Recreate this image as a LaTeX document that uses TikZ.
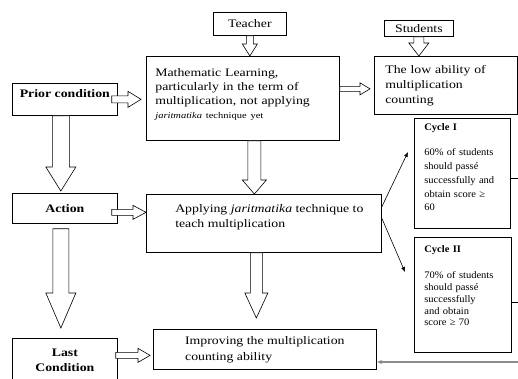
\documentclass[tikz,border=0pt]{standalone}
\usepackage{fontspec}
\setmainfont{Liberation Serif}[FakeStretch=1.2]
\newfontfamily\cyf{Liberation Serif}[FakeStretch=1.05]
\usetikzlibrary{calc,arrows.meta}
\newcommand\fm{\fontsize{11.5}{14}\selectfont}
\newcommand\dnr[1]{\rule[-#1]{0pt}{#1}}
\begin{document}
\begin{tikzpicture}[x=1pt,y=-1pt,
  bx/.style={draw=black, line width=0.7pt, fill=white, inner sep=0pt, anchor=north west, font=\fm},
  blk/.style={draw=black, line width=0.6pt, fill=white},
  vblk/.style n args={3}{blk, to path={let \p1=(\tikztostart), \p2=(\tikztotarget) in
     (\x1-#1,\y1) -- (\x1-#1,\y2+#3) -- (\x1-#2,\y2+#3) -- (\x1,\y2) -- (\x1+#2,\y2+#3) -- (\x1+#1,\y2+#3) -- (\x1+#1,\y1) -- cycle}},
  hblk/.style n args={3}{blk, to path={let \p1=(\tikztostart), \p2=(\tikztotarget) in
     (\x1,\y1+#1) -- (\x2-#3,\y1+#1) -- (\x2-#3,\y1+#2) -- (\x2,\y1) -- (\x2-#3,\y1-#2) -- (\x2-#3,\y1-#1) -- (\x1,\y1-#1) -- cycle}},
  thinarr/.style={draw=black, line width=0.6pt, -{Latex[length=5pt,width=4pt]}},
  stub/.style={draw=black, line width=0.6pt},
  backline/.style={draw=black!45, line width=1.6pt, -{Latex[length=5pt,width=4.5pt,fill=black]}}
]
\path[use as bounding box, clip] (0,0) rectangle (518,378);

% boxes
\node[bx, minimum width=73pt, minimum height=23pt] (teacher) at (213,12) {Teacher};
\node[bx, minimum width=69pt, minimum height=16pt] (students) at (384,20) {Students};
\node[bx, minimum width=193pt, minimum height=84pt, text width=175pt, inner xsep=9pt, align=left] (main) at (146,56)
  {Mathematic Learning,\\particularly in the term of\\multiplication, not applying\\{\fontsize{8.75}{14}\selectfont\textit{jaritmatika} technique yet}\dnr{10pt}};
\node[bx, minimum width=143pt, minimum height=58pt, text width=121pt, inner xsep=11pt, align=left, font=\fontsize{11.5}{15}\selectfont] (low) at (374,56)
  {The low ability of\\multiplication\\counting};
\node[bx, minimum width=105pt, minimum height=32pt, font=\fm\bfseries] (prior) at (12,83) {Prior condition\dnr{12pt}};
\node[bx, minimum width=105pt, minimum height=30pt, font=\fm\bfseries] (action) at (12,193) {Action};
\node[bx, minimum width=105pt, minimum height=44pt, align=center, font=\fontsize{11.5}{15}\selectfont\bfseries] (last) at (12,338) {Last\\Condition};
\node[bx, minimum width=235pt, minimum height=58pt, align=left, font=\fontsize{11.5}{15}\selectfont] (apply) at (146,194)
  {\hspace*{11pt}Applying \textit{jaritmatika} technique to\\\hspace*{11pt}teach multiplication\dnr{15pt}};
\node[bx, minimum width=223pt, minimum height=40pt, align=left, font=\fontsize{11.5}{16}\selectfont] (improve) at (153,329)
  {Improving the multiplication\\counting ability};
\node[bx, minimum width=96pt, minimum height=110pt, text width=76pt, inner xsep=10pt, align=left, font=\cyf\fontsize{10}{13.75}\selectfont] (cyc1) at (414,118)
  {\textbf{Cycle I}\\[11.25pt]60\% of students\\should passé\\successfully and\\obtain score ≥\\60\dnr{12pt}};
\node[bx, minimum width=97pt, minimum height=115pt, text width=77pt, inner xsep=10pt, align=left, font=\cyf\fontsize{10}{11.75}\selectfont] (cyc2) at (414,237)
  {\textbf{Cycle II}\\[14.25pt]70\% of students\\should passé\\successfully\\and obtain\\score ≥ 70\dnr{18pt}};

% helper coordinates
\coordinate (t1) at (teacher.south |- main.north);
\coordinate (s1) at (students.south |- low.north);
\coordinate (p0) at ([xshift=-6pt]prior.east);
\coordinate (p1) at ($(p0 -| main.west)+(-5,0)$);
\coordinate (m0) at ([yshift=9.5pt]main.east);
\coordinate (m1) at ($(m0 -| low.west)+(-4,0)$);
\coordinate (d0) at ([xshift=11.5pt]main.south);
\coordinate (d1) at (d0 |- apply.north);
\coordinate (e0) at ([xshift=-7.5pt]apply.south);
\coordinate (e1) at ($(e0 |- improve.north)+(0,-11)$);
\coordinate (pd0) at ([xshift=-4pt]prior.south);
\coordinate (pd1) at ($(pd0 |- action.north)+(0,-2)$);
\coordinate (ad0) at ($(action.south)+(-4,5)$);
\coordinate (ad1) at ($(ad0 |- last.north)+(0,-10)$);
\coordinate (ac0) at ($(action.east)+(-6,4)$);
\coordinate (ac1) at (ac0 -| apply.west);
\coordinate (l0) at ($(last.east)+(-2,-5)$);
\coordinate (l1) at ($(l0 -| improve.west)+(-3,0)$);
\coordinate (rb) at (522,362);

% block arrows
\path[vblk={3.5pt}{7.5pt}{12pt}] (teacher.south) to (t1);
\path[vblk={5pt}{10pt}{13pt}] (students.south) to (s1);
\path[hblk={3.5pt}{8pt}{13pt}] (p0) to (p1);
\path[hblk={2.5pt}{6pt}{10pt}] (main.east |- m0) to (m1);
\path[vblk={6.5pt}{12pt}{14pt}] (d0) to (d1);
\path[vblk={6pt}{11.5pt}{25pt}] (e0) to (e1);
\path[vblk={8.5pt}{15pt}{24pt}] (pd0) to (pd1);
\path[vblk={8pt}{15pt}{35pt}] (ad0) to (ad1);
\path[hblk={3pt}{7pt}{13pt}] (ac0) to (ac1);
\path[hblk={3pt}{7pt}{12pt}] (l0) to (l1);

% thin connectors
\draw[thinarr] ($(apply.north east)+(0,13)$) -- ($(cyc1.north west)+(-6,34)$);
\draw[thinarr] ($(apply.north east)+(0,24)$) -- ($(cyc2.north west)+(-9,35)$);
\draw[stub] ($(cyc1.east)+(0,5)$) -- ++(12,0);
\draw[stub] ($(cyc2.east)+(0,7.5)$) -- ++(12,0);
\draw[backline] (rb) -- (rb -| improve.east);
\end{tikzpicture}
\end{document}
